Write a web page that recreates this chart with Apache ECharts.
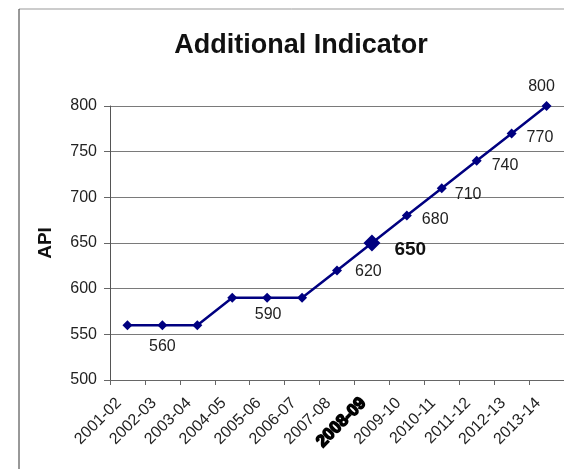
<!DOCTYPE html>
<html><head><meta charset="utf-8">
<script src="https://cdn.jsdelivr.net/npm/echarts@6/dist/echarts.min.js"></script>
<style>html,body{margin:0;padding:0;background:#fff}#c{width:564px;height:469px}</style>
</head><body><div id="c"></div>
<script>
const categories = ['2001-02','2002-03','2003-04','2004-05','2005-06','2006-07','2007-08','2008-09','2009-10','2010-11','2011-12','2012-13','2013-14'];
const values = [560,560,560,590,590,590,620,650,680,710,740,770,800];
const labelledIdx = [1,4,6,7,8,9,10,11,12];
const highlightIdx = 7;
const yTicks = {min:500, max:800, step:50};

const F = 'Liberation Sans, Arial, sans-serif';
const labelCfg = {
  1:{position:'bottom', offset:[0,3]},
  4:{position:'bottom', offset:[1,-1]},
  6:{position:'right', offset:[8,1]},
  7:{position:'right', offset:[9,7], fontWeight:'bold', fontSize:19, color:'#111'},
  8:{position:'right', offset:[5,4]},
  9:{position:'right', offset:[3,6]},
  10:{position:'right', offset:[5,5]},
  11:{position:'right', offset:[5,4]},
  12:{position:'top', offset:[-5,-1]}
};
const data = values.map((v,i)=>{
  const d = {value:v};
  if (labelledIdx.includes(i)) {
    d.label = Object.assign({show:true, fontFamily:F, fontSize:16, color:'#222', distance:5}, labelCfg[i]||{});
  }
  if (i===highlightIdx) d.symbolSize = 17;
  return d;
});

const chart = echarts.init(document.getElementById('c'), null, {renderer:'canvas'});
chart.setOption({
  animation:false,
  backgroundColor:'#fff',
  graphic:[
    {type:'line', shape:{x1:19, y1:9, x2:564, y2:9}, style:{stroke:'#999', lineWidth:1}, silent:true},
    {type:'line', shape:{x1:19, y1:9, x2:19, y2:469}, style:{stroke:'#333', lineWidth:1}, silent:true}
  ],
  title:{text:'Additional Indicator', left:296, textAlign:'center', top:27, textStyle:{fontFamily:F, fontSize:27, fontWeight:'bold', color:'#111'}},
  grid:{left:110, top:106, width:456, height:274},
  xAxis:{type:'category', data:categories, boundaryGap:true,
    axisLine:{lineStyle:{color:'#666', width:1}},
    axisTick:{show:true, length:5, lineStyle:{color:'#666'}},
    axisLabel:{rotate:45, interval:0, fontFamily:F, fontSize:16, color:'#222', margin:12, padding:[0,12,0,0],
      formatter:(v,i)=> i===highlightIdx ? '{b|'+v+'}' : v,
      rich:{b:{fontFamily:F, fontSize:17, fontWeight:'900', color:'#000', textBorderColor:'#000', textBorderWidth:1.5}}},
    splitLine:{show:false}},
  yAxis:{type:'value', min:yTicks.min, max:yTicks.max, interval:yTicks.step,
    name:'API', nameLocation:'middle', nameGap:55, nameRotate:90,
    nameTextStyle:{fontFamily:F, fontSize:19, fontWeight:'bold', color:'#111'},
    axisLine:{show:true, lineStyle:{color:'#555'}},
    axisTick:{show:true, length:6, lineStyle:{color:'#666'}},
    axisLabel:{fontFamily:F, fontSize:16, color:'#222', margin:13},
    splitLine:{show:true, lineStyle:{color:'#7a7a7a', width:1}}},
  series:[{type:'line', data:data, symbol:'diamond', symbolSize:10,
    lineStyle:{color:'#000080', width:2.5}, itemStyle:{color:'#000080'},
    label:{show:false}}]
});
</script></body></html>
